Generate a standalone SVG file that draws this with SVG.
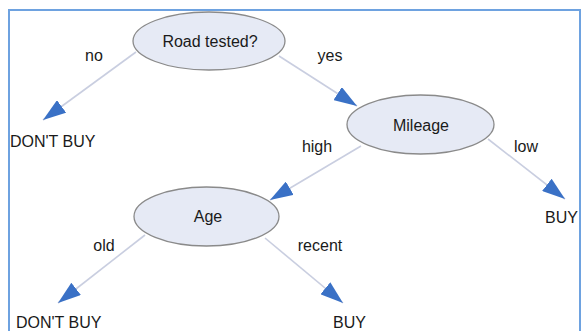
<svg xmlns="http://www.w3.org/2000/svg" width="581" height="331" viewBox="0 0 581 331">
<style>
text{font-family:"Liberation Sans",Arial,sans-serif;font-size:16px;fill:#1a1a1a}
.c{text-anchor:middle}
.node ellipse{fill:#e6eaf5;stroke:#8a8a8a;stroke-width:1.3}
.edge{stroke:#c9cee0;stroke-width:1.6;fill:none;marker-end:url(#ah)}
</style>
<defs>
<marker id="ah" viewBox="0 0 23 15.5" refX="23" refY="7.75" markerWidth="23" markerHeight="15.5" markerUnits="userSpaceOnUse" orient="auto">
<path d="M0,0 L23,7.75 L0,15.5 Z" fill="#3a71c6"/>
</marker>
</defs>
<rect x="0" y="0" width="581" height="331" fill="#ffffff"/>
<path d="M9,331 V10 H580 V331" fill="none" stroke="#6ea2e0" stroke-width="2"/>
<g id="connectors">
<line class="edge" x1="136" y1="52" x2="43" y2="120"/>
<line class="edge" x1="279" y1="56" x2="357" y2="106"/>
<line class="edge" x1="361" y1="146" x2="270" y2="200"/>
<line class="edge" x1="488" y1="139" x2="565" y2="199"/>
<line class="edge" x1="145" y1="235" x2="58" y2="303"/>
<line class="edge" x1="265" y1="238" x2="343" y2="303"/>
<text class="c" x="94" y="61">no</text>
<text class="c" x="330" y="61">yes</text>
<text class="c" x="317" y="152">high</text>
<text class="c" x="526" y="152">low</text>
<text class="c" x="104" y="251">old</text>
<text class="c" x="320" y="251">recent</text>
</g>
<g id="road" class="node"><ellipse cx="209" cy="41" rx="76" ry="29"/><text class="c" x="210" y="47">Road tested?</text></g>
<g id="mileage" class="node"><ellipse cx="420.5" cy="124.5" rx="73.5" ry="29.5"/><text class="c" x="421" y="131">Mileage</text></g>
<g id="age" class="node"><ellipse cx="206.5" cy="216.5" rx="72.5" ry="29.5"/><text class="c" x="208" y="222">Age</text></g>
<g id="dontbuy1"><text x="10" y="147">DON'T BUY</text></g>
<g id="buy1"><text x="545" y="223">BUY</text></g>
<g id="dontbuy2"><text x="16" y="328">DON'T BUY</text></g>
<g id="buy2"><text x="333" y="328">BUY</text></g>
</svg>
